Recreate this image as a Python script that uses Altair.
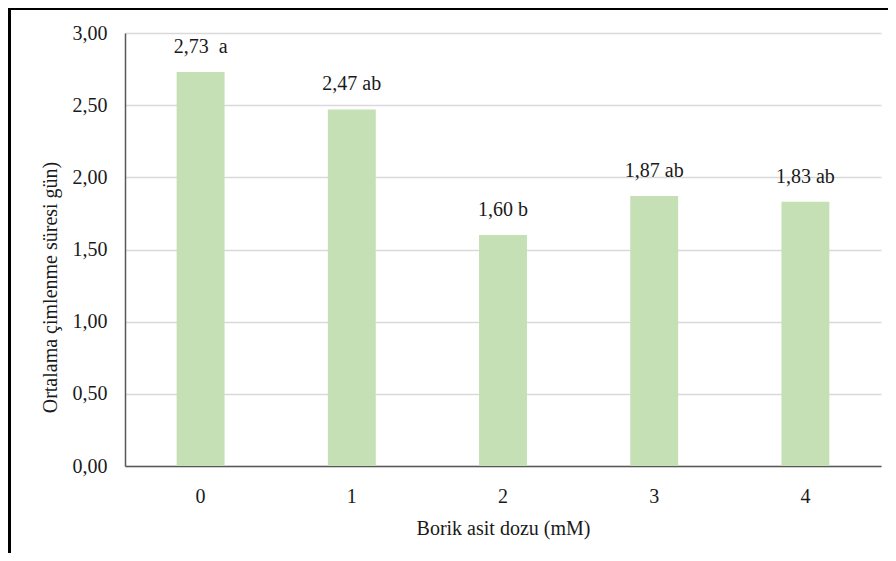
import altair as alt
import pandas as pd

doses = ["0", "1", "2", "3", "4"]
means = [2.73, 2.47, 1.60, 1.87, 1.83]
labels = ["2,73\u00a0\u00a0a", "2,47 ab", "1,60 b", "1,87 ab", "1,83 ab"]
y_ticks = [0, 0.5, 1.0, 1.5, 2.0, 2.5, 3.0]

df = pd.DataFrame({"doz": doses, "ort": means, "etiket": labels})

FONT = "Liberation Serif"

x_enc = alt.X("doz:N", sort=doses, title="Borik asit dozu (mM)",
              scale=alt.Scale(paddingInner=0.683, paddingOuter=0.3415),
              axis=alt.Axis(labelAngle=0, ticks=False, tickSize=0, labelPadding=20,
                            domainColor="#595959", domainWidth=1.5,
                            titlePadding=12, grid=False))
y_enc = alt.Y("ort:Q", title="Ortalama çimlenme süresi gün)",
              scale=alt.Scale(domain=[0, 3]),
              axis=alt.Axis(values=y_ticks, labelExpr="replace(format(datum.value, '.2f'), '.', ',')",
                            ticks=False, tickSize=0, labelPadding=18,
                            domainColor="#595959", domainWidth=1.5,
                            gridColor="#d9d9d9", gridWidth=1.5,
                            titlePadding=12, titleY=254))

bars = alt.Chart(df).mark_bar(color="#c5e0b4").encode(x=x_enc, y=y_enc)

text = alt.Chart(df).mark_text(font=FONT, fontSize=20, color="#1a1a1a", dy=-19,
                               baseline="alphabetic").encode(
    x=alt.X("doz:N", sort=doses), y=alt.Y("ort:Q"), text="etiket:N")

frame_left = alt.Chart(df).mark_rule(color="black", strokeWidth=3).encode(
    x=alt.value(-115.5), y=alt.value(-25.5), y2=alt.value(520))
frame_top = alt.Chart(df).mark_rule(color="black", strokeWidth=3).encode(
    x=alt.value(-117), x2=alt.value(763), y=alt.value(-24.5))

chart = alt.layer(bars, text, frame_left, frame_top).properties(
    width=756, height=433,
    autosize=alt.AutoSizeParams(type="none"),
    padding={"left": 117, "top": 25, "right": 7, "bottom": 87},
).configure_view(stroke=None).configure_axis(
    labelFont=FONT, titleFont=FONT, labelFontSize=20, titleFontSize=20,
    labelColor="#1a1a1a", titleColor="#1a1a1a", titleFontWeight="normal",
)

chart.save("out.html", embed_options={"renderer": "svg", "actions": False})
